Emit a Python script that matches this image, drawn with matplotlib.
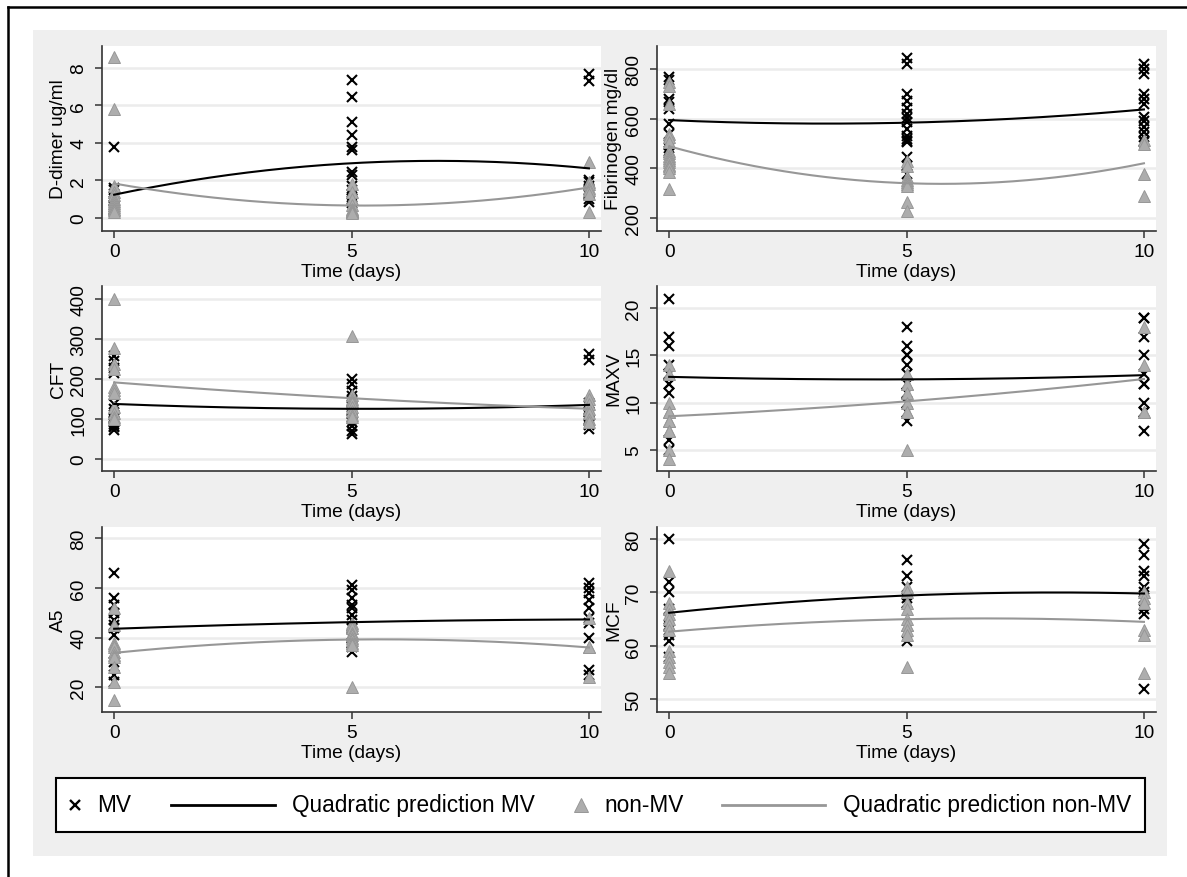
import numpy as np
import matplotlib
matplotlib.use('Agg')
import matplotlib.pyplot as plt
from matplotlib.patches import Rectangle
from matplotlib.lines import Line2D

plt.rcParams['font.family'] = ['Liberation Sans', 'DejaVu Sans']

days = [0, 5, 10]

# values per day (0, 5, 10)
ddimer_mv = [[3.8, 1.6, 1.5, 1.3, 1.1, 0.9, 0.7, 0.6, 0.5, 0.4],
             [7.36, 6.44, 5.1, 4.43, 3.77, 3.64, 2.44, 2.31, 1.7, 1.5, 1.3, 1.1, 1.0, 0.9, 0.8],
             [7.7, 7.3, 2.0, 1.9, 1.7, 1.5, 1.3, 1.2, 1.0, 0.85]]
ddimer_non = [[8.6, 5.8, 1.7, 1.4, 1.2, 1.0, 0.9, 0.8, 0.7, 0.6, 0.5, 0.4, 0.3],
              [1.8, 1.4, 1.0, 0.7, 0.5, 0.4, 0.35, 0.3, 0.3, 0.3, 0.25],
              [3.0, 1.9, 1.8, 1.6, 1.5, 1.3, 0.3]]

fib_mv = [[769, 755, 680, 668, 640, 578, 540, 494, 484, 470, 460],
          [843, 820, 699, 672, 645, 618, 603, 587, 558, 531, 520, 511, 505, 444, 410, 377],
          [820, 800, 780, 700, 680, 660, 605, 590, 565, 545, 525, 510, 505]]
fib_non = [[746, 732, 660, 540, 525, 505, 470, 460, 450, 440, 432, 425, 415, 410, 400, 384, 317],
           [430, 410, 365, 352, 345, 338, 330, 263, 229],
           [515, 500, 377, 290]]

cft_mv = [[257, 246, 227, 215, 138, 125, 110, 100, 95, 92, 88, 83, 80, 72],
          [200, 187, 171, 158, 145, 130, 120, 112, 100, 92, 83, 71, 63],
          [262, 247, 140, 132, 125, 118, 110, 100, 95, 85, 75]]
cft_non = [[400, 278, 237, 225, 180, 172, 165, 130, 115, 105, 100],
           [308, 160, 150, 145, 140, 130, 120, 110, 105],
           [160, 150, 138, 125, 115, 100, 92]]

maxv_mv = [[21, 17, 16, 14, 13, 13, 12, 12, 11, 6, 5],
           [18, 16, 15, 15, 14, 13, 12, 11, 11, 10, 10, 9, 8],
           [19, 19, 17, 15, 13, 12, 12, 10, 9, 9, 7]]
maxv_non = [[14, 13, 10, 9, 9, 8, 8, 7, 7, 5, 4],
            [13, 12, 12, 11, 10, 9, 9, 5],
            [18, 14, 9, 9]]

a5_mv = [[66, 56, 53, 50, 47, 45, 44, 41, 30, 25, 22],
         [61, 59, 56, 53, 52, 49, 47, 44, 41, 40, 38, 37, 36, 34],
         [62, 60, 58, 55, 52, 48, 46, 40, 27, 25]]
a5_non = [[52, 45, 38, 37, 36, 34, 33, 32, 28, 22, 15],
          [46, 45, 44, 42, 41, 40, 39, 38, 37, 20],
          [48, 36, 36, 24]]

mcf_mv = [[80, 72, 70, 67, 65, 64, 63, 62, 61, 58],
          [76, 73, 71, 69, 68, 68, 61],
          [79, 77, 74, 73, 71, 70, 69, 67, 66, 52]]
mcf_non = [[74, 68, 67, 66, 65, 64, 63, 59, 58, 57, 56, 55],
           [71, 70, 68, 67, 64, 65, 64, 63, 62, 56],
           [70, 69, 68, 63, 62, 55]]

panels = [
    ("D-dimer ug/ml", ddimer_mv, ddimer_non, [0, 2, 4, 6, 8], (-0.68, 9.19)),
    ("Fibrinogen mg/dl", fib_mv, fib_non, [200, 400, 600, 800], (149, 894)),
    ("CFT", cft_mv, cft_non, [0, 100, 200, 300, 400], (-29, 433)),
    ("MAXV", maxv_mv, maxv_non, [5, 10, 15, 20], (2.77, 22.4)),
    ("A5", a5_mv, a5_non, [20, 40, 60, 80], (10.1, 84.7)),
    ("MCF", mcf_mv, mcf_non, [50, 60, 70, 80], (47.7, 82.3)),
]

W, H = 1187, 878
fig = plt.figure(figsize=(W / 100, H / 100), dpi=100)

# gray graph region and outer frame
fig.patches.append(Rectangle((32.5 / W, 1 - 857 / H), (1167 - 32.5) / W, (857 - 31) / H,
                             transform=fig.transFigure, facecolor='#efefef',
                             edgecolor='none', zorder=-10))
fig.lines.append(Line2D([7.5 / W, 7.5 / W], [0, 1 - 7.5 / H], transform=fig.transFigure,
                        color='black', lw=1.8))
fig.lines.append(Line2D([7.5 / W, 1], [1 - 7.5 / H, 1 - 7.5 / H], transform=fig.transFigure,
                        color='black', lw=1.8))

lefts = [102.3, 657.3]
bottoms = [231.7, 471.7, 712.7]
pw, ph = 498.5, 185

mv_col = 'black'
non_col = '#adadad'
non_edge = '#979797'
line_non = '#979797'
fs = 13.8

for k, (label, mv, non, yt, ylim) in enumerate(panels):
    r, c = divmod(k, 2)
    ax = fig.add_axes([lefts[c] / W, 1 - bottoms[r] / H, pw / W, ph / H])
    ax.set_facecolor('white')

    x_mv = np.concatenate([[d] * len(v) for d, v in zip(days, mv)])
    y_mv = np.concatenate(mv)
    x_non = np.concatenate([[d] * len(v) for d, v in zip(days, non)])
    y_non = np.concatenate(non)
    xs = np.linspace(0, 10, 200)

    ax.plot(x_mv, y_mv, 'x', color=mv_col, ms=6.5, mew=1.5, zorder=3)
    ax.plot(xs, np.polyval(np.polyfit(x_mv, y_mv, 2), xs), color='black', lw=1.5, zorder=4)
    ax.plot(x_non, y_non, '^', color=non_col, mec=non_edge, ms=8.5, mew=0.7, zorder=3)
    ax.plot(xs, np.polyval(np.polyfit(x_non, y_non, 2), xs), color=line_non, lw=1.5, zorder=4)

    ax.set_xlim(-0.25, 10.25)
    ax.set_ylim(*ylim)
    ax.set_xticks(days)
    ax.set_yticks(yt)
    ax.yaxis.grid(True, color='#ececec', lw=1.8)
    ax.set_axisbelow(True)
    for s in ['top', 'right']:
        ax.spines[s].set_visible(False)
    for s in ['left', 'bottom']:
        ax.spines[s].set_color('#333333')
        ax.spines[s].set_linewidth(1.2)
    ax.tick_params(length=5, width=1.1, color='#333333', labelsize=fs)
    ax.tick_params(axis='x', pad=4)
    ax.tick_params(axis='y', pad=6, labelrotation=90)
    for t in ax.get_yticklabels():
        t.set_va('center')
    ax.set_xlabel("Time (days)", fontsize=fs, labelpad=2)
    ax.set_ylabel(label, fontsize=fs, labelpad=2)

# legend box
fig.patches.append(Rectangle((56 / W, 1 - 833 / H), (1145 - 56) / W, (833 - 779) / H,
                             transform=fig.transFigure, facecolor='white',
                             edgecolor='black', lw=1.5, zorder=5))
ly = 1 - 806 / H
lfs = 16.3
fig.lines.append(Line2D([75.4 / W], [ly], transform=fig.transFigure, marker='x',
                        color='black', ms=7.5, mew=1.7, ls='none', zorder=6))
fig.text(97.6 / W, ly, "MV", fontsize=lfs, va='center', ha='left', zorder=6)
fig.lines.append(Line2D([171 / W, 275 / W], [ly, ly], transform=fig.transFigure,
                        color='black', lw=2, zorder=6))
fig.text(291.6 / W, ly, "Quadratic prediction MV", fontsize=lfs, va='center', ha='left', zorder=6)
fig.lines.append(Line2D([581 / W], [ly], transform=fig.transFigure, marker='^',
                        color=non_col, mec=non_edge, ms=10, mew=0.7, ls='none', zorder=6))
fig.text(604.5 / W, ly, "non-MV", fontsize=lfs, va='center', ha='left', zorder=6)
fig.lines.append(Line2D([722 / W, 825 / W], [ly, ly], transform=fig.transFigure,
                        color=line_non, lw=2, zorder=6))
fig.text(843 / W, ly, "Quadratic prediction non-MV", fontsize=lfs, va='center', ha='left', zorder=6)

fig.savefig('out.png', dpi=100)
